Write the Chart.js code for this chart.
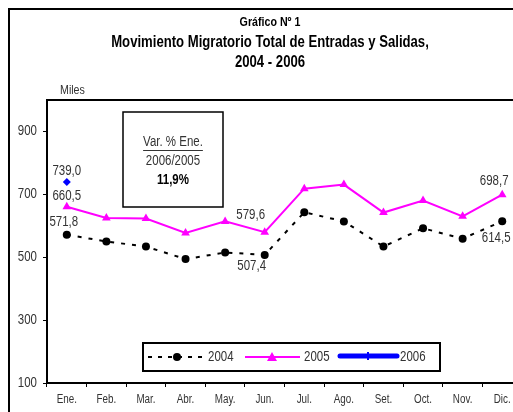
<!DOCTYPE html>
<html>
<head>
<meta charset="utf-8">
<script src="https://cdn.jsdelivr.net/npm/chart.js@4.4.0/dist/chart.umd.min.js"></script>
<style>
html, body { margin: 0; padding: 0; background: #fff; overflow: hidden; }
#marco { position: absolute; left: 0; top: 0; width: 540px; height: 430px; }
</style>
</head>
<body>
<div id="marco"><canvas id="grafico" width="540" height="430"></canvas></div>
<script>
const meses = ["Ene.", "Feb.", "Mar.", "Abr.", "May.", "Jun.", "Jul.", "Ago.", "Set.", "Oct.", "Nov.", "Dic."];
const serie2004 = [571.8, 550, 534, 494, 515, 507.4, 643, 614, 534, 592, 559, 614.5];
const serie2005 = [660.5, 625, 623, 577, 614, 579.6, 718, 731, 642, 680, 630, 698.7];
const serie2006 = [739.0, null, null, null, null, null, null, null, null, null, null, null];
const ticksY = [100, 300, 500, 700, 900];
// meses que llevan etiqueta de valor
const etiquetas2004 = [0, 5, 11];
const etiquetas2005 = [0, 5, 11];
const etiquetas2006 = [0];

const fuente = "'Liberation Sans', Arial, sans-serif";
const estrecho = 0.82; // imita Arial Narrow

// desplazamiento [dx, dy] de cada etiqueta respecto a su punto
const desplazamientos = [
    { 0: [-3, -13], 5: [-13, 11], 11: [-6, 17] },
    { 0: [0, -11], 5: [-14, -17], 11: [-8, -14] },
    { 0: [0, -11] }
];

function formato(v) {
    return v.toFixed(1).replace(".", ",");
}

const variacion = (serie2006[0] / serie2005[0] - 1) * 100;

// texto comprimido horizontalmente
function texto(ctx, str, x, y, align, font, color) {
    ctx.save();
    ctx.font = font;
    ctx.fillStyle = color;
    ctx.textAlign = align;
    ctx.textBaseline = "middle";
    ctx.translate(x, y);
    ctx.scale(estrecho, 1);
    ctx.fillText(str, 0, 0);
    const w = ctx.measureText(str).width * estrecho;
    ctx.restore();
    return w;
}

const pluginDibujo = {
    id: "dibujo",
    beforeDraw(chart) {
        const ctx = chart.ctx;
        const a = chart.chartArea;
        ctx.save();
        ctx.fillStyle = "#fff";
        ctx.fillRect(0, 0, chart.width, chart.height);
        ctx.strokeStyle = "#000";
        ctx.lineWidth = 2;
        ctx.strokeRect(9, 9, chart.width + 20, chart.height + 20);
        ctx.strokeRect(a.left, a.top, a.right - a.left, a.bottom - a.top);
        ctx.restore();
    },
    afterDraw(chart) {
        const ctx = chart.ctx;
        const cx = chart.width / 2;
        texto(ctx, "Gráfico Nº 1", cx, 22, "center", "bold 13px " + fuente, "#000");
        texto(ctx, "Movimiento Migratorio Total de Entradas y Salidas,", cx, 43, "center", "bold 16px " + fuente, "#000");
        texto(ctx, "2004 - 2006", cx, 63, "center", "bold 16px " + fuente, "#000");
        texto(ctx, "Miles", 60, 90, "left", "13px " + fuente, "#333");

        // etiquetas de ejes
        const sy = chart.scales.y;
        sy.ticks.forEach((t) => {
            texto(ctx, String(t.value), sy.right - 10, sy.getPixelForValue(t.value), "right", "14px " + fuente, "#333");
        });
        const sx = chart.scales.x;
        meses.forEach((m, i) => {
            texto(ctx, m, sx.getPixelForTick(i), sx.top + 17, "center", "12px " + fuente, "#333");
        });

        // cuadro de variación
        ctx.save();
        ctx.strokeStyle = "#000";
        ctx.lineWidth = 1.5;
        ctx.strokeRect(123, 112, 100, 95);
        const w = texto(ctx, "Var. % Ene.", 173, 142, "center", "14px " + fuente, "#333");
        ctx.strokeStyle = "#333";
        ctx.lineWidth = 1;
        ctx.beginPath();
        ctx.moveTo(173 - w / 2, 150.5);
        ctx.lineTo(173 + w / 2, 150.5);
        ctx.stroke();
        ctx.restore();
        texto(ctx, "2006/2005", 173, 161, "center", "14px " + fuente, "#333");
        texto(ctx, formato(variacion) + "%", 173, 180, "center", "bold 14px " + fuente, "#000");

        // etiquetas de valores
        const grupos = [etiquetas2004, etiquetas2005, etiquetas2006];
        chart.data.datasets.forEach((ds, i) => {
            const meta = chart.getDatasetMeta(i);
            grupos[i].forEach((idx) => {
                const p = meta.data[idx];
                const d = desplazamientos[i][idx];
                texto(ctx, formato(ds.data[idx]), p.x + d[0], p.y + d[1], "center", "14px " + fuente, "#333");
            });
        });

        // leyenda
        ctx.save();
        ctx.strokeStyle = "#000";
        ctx.lineWidth = 2;
        ctx.fillStyle = "#fff";
        ctx.fillRect(143, 343, 297, 28);
        ctx.strokeRect(143, 343, 297, 28);
        const ly = 357;
        // 2004
        ctx.setLineDash([4, 6]);
        ctx.beginPath(); ctx.moveTo(148, ly); ctx.lineTo(206, ly); ctx.stroke();
        ctx.setLineDash([]);
        ctx.fillStyle = "#000";
        ctx.beginPath(); ctx.arc(177, ly, 4, 0, Math.PI * 2); ctx.fill();
        // 2005
        ctx.strokeStyle = "#ff00ff";
        ctx.beginPath(); ctx.moveTo(245, ly); ctx.lineTo(300, ly); ctx.stroke();
        ctx.fillStyle = "#ff00ff";
        ctx.beginPath(); ctx.moveTo(272, ly - 5); ctx.lineTo(277, ly + 4); ctx.lineTo(267, ly + 4); ctx.closePath(); ctx.fill();
        // 2006
        ctx.strokeStyle = "#0000ff";
        ctx.lineWidth = 5;
        ctx.lineCap = "round";
        ctx.beginPath(); ctx.moveTo(340, ly - 1); ctx.lineTo(397, ly - 1); ctx.stroke();
        ctx.fillStyle = "#0000ff";
        ctx.fillRect(367, ly - 5, 2, 8);
        ctx.restore();
        texto(ctx, "2004", 208, ly, "left", "14px " + fuente, "#333");
        texto(ctx, "2005", 304, ly, "left", "14px " + fuente, "#333");
        texto(ctx, "2006", 400, ly, "left", "14px " + fuente, "#333");
    }
};

const config = {
    type: "line",
    data: {
        labels: meses,
        datasets: [
            {
                label: "2004",
                data: serie2004,
                borderColor: "#000",
                backgroundColor: "#000",
                borderWidth: 2,
                borderDash: [4, 7],
                pointStyle: "circle",
                pointRadius: 4,
                pointBorderWidth: 0
            },
            {
                label: "2005",
                data: serie2005,
                borderColor: "#ff00ff",
                backgroundColor: "#ff00ff",
                borderWidth: 2,
                pointStyle: "triangle",
                pointRadius: 5,
                pointBorderWidth: 0
            },
            {
                label: "2006",
                data: serie2006,
                borderColor: "#0000ff",
                backgroundColor: "#0000ff",
                borderWidth: 4,
                pointStyle: "rectRot",
                pointRadius: 4,
                pointBorderWidth: 0
            }
        ]
    },
    options: {
        responsive: false,
        animation: false,
        layout: { padding: { left: 0, top: 100, right: 18, bottom: 0 } },
        plugins: {
            legend: { display: false },
            title: { display: false },
            tooltip: { enabled: false }
        },
        scales: {
            x: {
                offset: true,
                grid: { offset: true, drawOnChartArea: false, color: "#000", tickLength: 4, lineWidth: 1 },
                border: { display: true, color: "#000", width: 2 },
                ticks: { display: false, autoSkip: false, maxRotation: 0 },
                afterFit(scale) { scale.height = 47; }
            },
            y: {
                min: 100,
                max: 1000,
                grid: { drawOnChartArea: false, color: "#000", tickLength: 4, lineWidth: 1 },
                border: { display: true, color: "#000", width: 2 },
                ticks: { display: false },
                afterBuildTicks(scale) { scale.ticks = ticksY.map((v) => ({ value: v })); },
                afterFit(scale) { scale.width = 47; }
            }
        }
    },
    plugins: [pluginDibujo]
};

new Chart(document.getElementById("grafico"), config);
</script>
</body>
</html>
